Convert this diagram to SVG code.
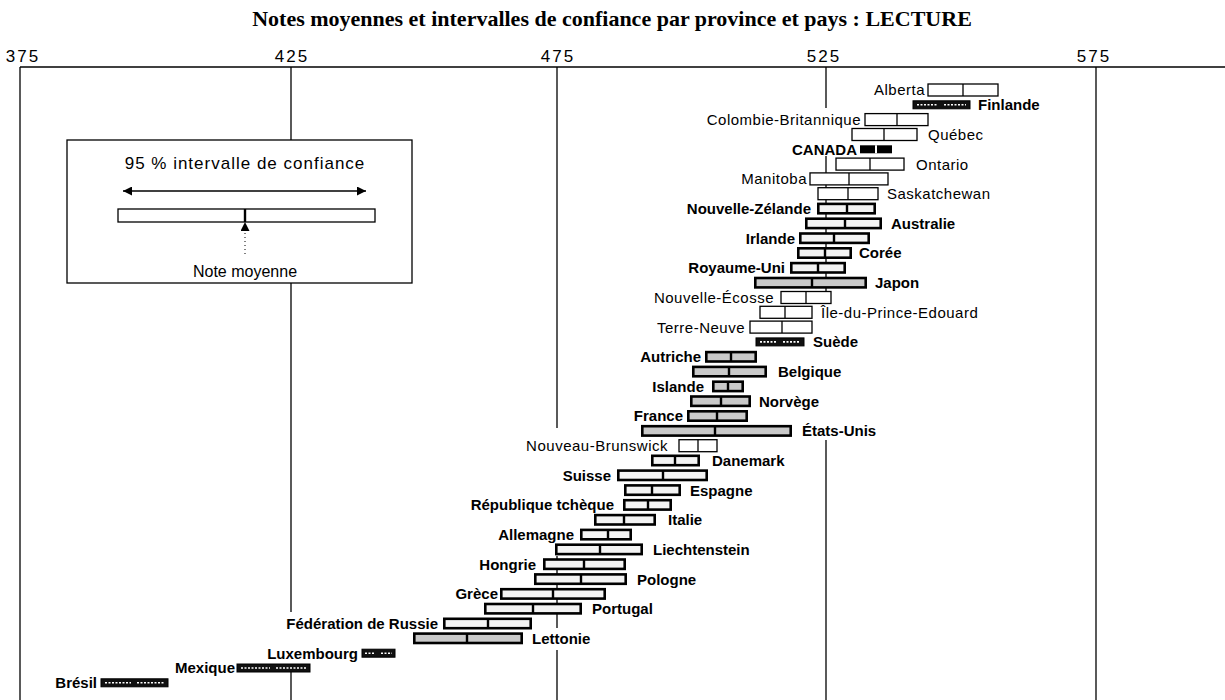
<svg xmlns="http://www.w3.org/2000/svg" width="1225" height="700" viewBox="0 0 1225 700">
<defs>
<style>
.ax{stroke:#000;stroke-width:1.3;fill:none}
.pv{fill:#fff;stroke:#000;stroke-width:1.3}
.pm{stroke:#000;stroke-width:1.3}
.ct{fill:#f3f3f3;stroke:#000;stroke-width:2.6}
.cg{fill:#c9c9c9;stroke:#000;stroke-width:2.6}
.cm{stroke:#000;stroke-width:2.4}
.dk{fill:#111;stroke:#000;stroke-width:1}
.sp{stroke:#fff;stroke-width:1.6;stroke-dasharray:2 1.5}
.lr{font-family:"Liberation Sans",Arial,sans-serif;font-size:15px;letter-spacing:0.5px;fill:#000}
.lb{font-family:"Liberation Sans",Arial,sans-serif;font-size:15px;font-weight:bold;letter-spacing:0px;fill:#000}
.e{text-anchor:end}
.tick{font-family:"Liberation Sans",Arial,sans-serif;font-size:17px;letter-spacing:2px;fill:#000;text-anchor:middle}
</style>
<marker id="ah" viewBox="0 0 10 10" refX="10" refY="5" markerWidth="14" markerHeight="9" markerUnits="userSpaceOnUse" orient="auto-start-reverse">
<path d="M0,0 L10,5 L0,10 z" fill="#000"/>
</marker>
<marker id="ah2" viewBox="0 0 10 10" refX="10" refY="5" markerWidth="16" markerHeight="9" markerUnits="userSpaceOnUse" orient="auto">
<path d="M0,0 L10,5 L0,10 z" fill="#000"/>
</marker>
</defs>
<rect width="1225" height="700" fill="#fff"/>
<text x="612" y="26" text-anchor="middle" font-family="'Liberation Serif','Times New Roman',serif" font-weight="bold" font-size="22">Notes moyennes et intervalles de confiance par province et pays : LECTURE</text>
<g id="axis">
<text class="tick" x="23" y="62">375</text>
<text class="tick" x="292" y="62">425</text>
<text class="tick" x="558" y="62">475</text>
<text class="tick" x="824" y="62">525</text>
<text class="tick" x="1094" y="62">575</text>
<line class="ax" x1="20" y1="67" x2="1225" y2="67"/>
<line class="ax" x1="20" y1="67" x2="20" y2="700"/>
<line class="ax" x1="291" y1="67" x2="291" y2="140"/>
<line class="ax" x1="291" y1="282" x2="291" y2="612"/>
<line class="ax" x1="291" y1="672" x2="291" y2="700"/>
<line class="ax" x1="557" y1="67" x2="557" y2="428"/>
<line class="ax" x1="557" y1="556" x2="557" y2="628"/>
<line class="ax" x1="557" y1="650" x2="557" y2="700"/>
<line class="ax" x1="826" y1="67" x2="826" y2="108"/>
<line class="ax" x1="826" y1="156" x2="826" y2="300"/>
<line class="ax" x1="826" y1="440" x2="826" y2="700"/>
<line class="ax" x1="1096" y1="67" x2="1096" y2="700"/>
</g>
<g id="legend">
<rect x="67" y="140" width="345" height="143" fill="#fff" stroke="#000" stroke-width="1.3"/>
<text x="245" y="169" text-anchor="middle" font-family="'Liberation Sans',Arial,sans-serif" font-size="17" letter-spacing="1">95 % intervalle de confiance</text>
<line x1="123" y1="191" x2="366" y2="191" stroke="#000" stroke-width="1.3" marker-start="url(#ah)" marker-end="url(#ah)"/>
<rect x="118" y="209" width="257" height="13" class="pv"/>
<line x1="245" y1="209" x2="245" y2="222" class="cm"/>
<line x1="245" y1="254" x2="245" y2="222" stroke="#000" stroke-width="1" stroke-dasharray="1 3" marker-end="url(#ah2)"/>
<text x="245" y="277" text-anchor="middle" font-family="'Liberation Sans',Arial,sans-serif" font-size="16" letter-spacing="0">Note moyenne</text>
</g>
<g id="rows">
<g id="alberta"><rect class="pv" x="928" y="84" width="70" height="12"/><line class="pm" x1="963" y1="84" x2="963" y2="96"/><text class="lr e" x="925" y="95">Alberta</text></g>
<g id="finlande"><rect class="dk" x="913" y="100.8" width="57" height="8"/><line class="sp" x1="917" y1="104.8" x2="938" y2="104.8"/><line class="sp" x1="944" y1="104.8" x2="966" y2="104.8"/><text class="lb" x="978" y="110">Finlande</text></g>
<g id="colombie-britannique"><rect class="pv" x="865" y="113.6" width="63" height="12"/><line class="pm" x1="897" y1="113.6" x2="897" y2="125.6"/><text class="lr e" x="861" y="125">Colombie-Britannique</text></g>
<g id="quebec"><rect class="pv" x="852" y="128.5" width="65" height="12"/><line class="pm" x1="884" y1="128.5" x2="884" y2="140.5"/><text class="lr" x="928" y="140">Québec</text></g>
<g id="canada"><rect x="860" y="145.3" width="32" height="8" fill="#000"/><line x1="876" y1="145.3" x2="876" y2="153.3" stroke="#fff" stroke-width="2"/><text class="lb e" x="857" y="154.5">CANADA</text></g>
<g id="ontario"><rect class="pv" x="836" y="158.1" width="68" height="12"/><line class="pm" x1="870" y1="158.1" x2="870" y2="170.1"/><text class="lr" x="916" y="169.5">Ontario</text></g>
<g id="manitoba"><rect class="pv" x="810" y="172.9" width="78" height="12"/><line class="pm" x1="849" y1="172.9" x2="849" y2="184.9"/><text class="lr e" x="807" y="184.3">Manitoba</text></g>
<g id="saskatchewan"><rect class="pv" x="818" y="187.7" width="60" height="12"/><line class="pm" x1="848" y1="187.7" x2="848" y2="199.7"/><text class="lr" x="887" y="199.1">Saskatchewan</text></g>
<g id="nouvelle-zelande"><rect class="ct" x="818.3" y="203.9" width="56.4" height="9.4"/><line class="cm" x1="847" y1="203.9" x2="847" y2="213.3"/><text class="lb e" x="811" y="214">Nouvelle-Zélande</text></g>
<g id="australie"><rect class="ct" x="806.3" y="218.7" width="74.4" height="9.4"/><line class="cm" x1="845" y1="218.7" x2="845" y2="228.1"/><text class="lb" x="891" y="228.8">Australie</text></g>
<g id="irlande"><rect class="ct" x="800.3" y="233.5" width="68.4" height="9.4"/><line class="cm" x1="834" y1="233.5" x2="834" y2="242.9"/><text class="lb e" x="795" y="243.6">Irlande</text></g>
<g id="coree"><rect class="ct" x="798.3" y="248.3" width="52.4" height="9.4"/><line class="cm" x1="825" y1="248.3" x2="825" y2="257.7"/><text class="lb" x="859" y="258.4">Corée</text></g>
<g id="royaume-uni"><rect class="ct" x="791.3" y="263.1" width="53.4" height="9.4"/><line class="cm" x1="818" y1="263.1" x2="818" y2="272.5"/><text class="lb e" x="785" y="273.2">Royaume-Uni</text></g>
<g id="japon"><rect class="cg" x="755.3" y="278" width="110.4" height="9.4"/><line class="cm" x1="812" y1="278" x2="812" y2="287.4"/><text class="lb" x="875" y="288.1">Japon</text></g>
<g id="nouvelle-ecosse"><rect class="pv" x="781" y="291.5" width="50" height="12"/><line class="pm" x1="806" y1="291.5" x2="806" y2="303.5"/><text class="lr e" x="774" y="302.9">Nouvelle-Écosse</text></g>
<g id="ipe"><rect class="pv" x="760" y="306.3" width="52" height="12"/><line class="pm" x1="785" y1="306.3" x2="785" y2="318.3"/><text class="lr" x="821" y="317.7">Île-du-Prince-Edouard</text></g>
<g id="terre-neuve"><rect class="pv" x="750" y="321.1" width="62" height="12"/><line class="pm" x1="782" y1="321.1" x2="782" y2="333.1"/><text class="lr e" x="745" y="332.5">Terre-Neuve</text></g>
<g id="suede"><rect class="dk" x="756" y="337.9" width="48" height="8"/><line class="sp" x1="760" y1="341.9" x2="777" y2="341.9"/><line class="sp" x1="783" y1="341.9" x2="800" y2="341.9"/><text class="lb" x="813" y="347.3">Suède</text></g>
<g id="autriche"><rect class="cg" x="706.3" y="352.1" width="49.4" height="9.4"/><line class="cm" x1="731" y1="352.1" x2="731" y2="361.5"/><text class="lb e" x="701" y="362.2">Autriche</text></g>
<g id="belgique"><rect class="cg" x="693.3" y="366.9" width="72.4" height="9.4"/><line class="cm" x1="729" y1="366.9" x2="729" y2="376.3"/><text class="lb" x="778" y="377">Belgique</text></g>
<g id="islande"><rect class="cg" x="713.3" y="381.7" width="29.4" height="9.4"/><line class="cm" x1="728" y1="381.7" x2="728" y2="391.1"/><text class="lb e" x="704" y="391.8">Islande</text></g>
<g id="norvege"><rect class="cg" x="691.3" y="396.5" width="58.4" height="9.4"/><line class="cm" x1="721" y1="396.5" x2="721" y2="405.9"/><text class="lb" x="759" y="406.6">Norvège</text></g>
<g id="france"><rect class="cg" x="688.3" y="411.3" width="58.4" height="9.4"/><line class="cm" x1="717" y1="411.3" x2="717" y2="420.7"/><text class="lb e" x="683" y="421.4">France</text></g>
<g id="etats-unis"><rect class="cg" x="642.3" y="426.2" width="148.4" height="9.4"/><line class="cm" x1="715" y1="426.2" x2="715" y2="435.6"/><text class="lb" x="802" y="436.3">États-Unis</text></g>
<g id="nouveau-brunswick"><rect class="pv" x="679" y="439.7" width="38" height="12"/><line class="pm" x1="698" y1="439.7" x2="698" y2="451.7"/><text class="lr e" x="668" y="451.1">Nouveau-Brunswick</text></g>
<g id="danemark"><rect class="ct" x="652.3" y="455.8" width="46.4" height="9.4"/><line class="cm" x1="675" y1="455.8" x2="675" y2="465.2"/><text class="lb" x="712" y="465.9">Danemark</text></g>
<g id="suisse"><rect class="ct" x="618.3" y="470.6" width="88.4" height="9.4"/><line class="cm" x1="663" y1="470.6" x2="663" y2="480"/><text class="lb e" x="611" y="480.7">Suisse</text></g>
<g id="espagne"><rect class="ct" x="625.3" y="485.4" width="54.4" height="9.4"/><line class="cm" x1="652" y1="485.4" x2="652" y2="494.8"/><text class="lb" x="690" y="495.5">Espagne</text></g>
<g id="republique-tcheque"><rect class="ct" x="624.3" y="500.2" width="46.4" height="9.4"/><line class="cm" x1="648" y1="500.2" x2="648" y2="509.6"/><text class="lb e" x="614" y="510.3">République tchèque</text></g>
<g id="italie"><rect class="ct" x="595.3" y="515.1" width="59.4" height="9.4"/><line class="cm" x1="624" y1="515.1" x2="624" y2="524.5"/><text class="lb" x="668" y="525.2">Italie</text></g>
<g id="allemagne"><rect class="ct" x="581.3" y="529.9" width="49.4" height="9.4"/><line class="cm" x1="608" y1="529.9" x2="608" y2="539.3"/><text class="lb e" x="574" y="540">Allemagne</text></g>
<g id="liechtenstein"><rect class="ct" x="556.3" y="544.7" width="85.4" height="9.4"/><line class="cm" x1="600" y1="544.7" x2="600" y2="554.1"/><text class="lb" x="653" y="554.8">Liechtenstein</text></g>
<g id="hongrie"><rect class="ct" x="544.3" y="559.5" width="80.4" height="9.4"/><line class="cm" x1="584" y1="559.5" x2="584" y2="568.9"/><text class="lb e" x="536" y="569.6">Hongrie</text></g>
<g id="pologne"><rect class="ct" x="535.3" y="574.4" width="90.4" height="9.4"/><line class="cm" x1="581" y1="574.4" x2="581" y2="583.8"/><text class="lb" x="637" y="584.5">Pologne</text></g>
<g id="grece"><rect class="ct" x="501.3" y="589.2" width="103.4" height="9.4"/><line class="cm" x1="553" y1="589.2" x2="553" y2="598.6"/><text class="lb e" x="498" y="599.3">Grèce</text></g>
<g id="portugal"><rect class="ct" x="485.3" y="604" width="95.4" height="9.4"/><line class="cm" x1="533" y1="604" x2="533" y2="613.4"/><text class="lb" x="592" y="614.1">Portugal</text></g>
<g id="russie"><rect class="ct" x="444.3" y="618.8" width="86.4" height="9.4"/><line class="cm" x1="488" y1="618.8" x2="488" y2="628.2"/><text class="lb e" x="438" y="628.9">Fédération de Russie</text></g>
<g id="lettonie"><rect class="cg" x="414.3" y="633.6" width="107.4" height="9.4"/><line class="cm" x1="467" y1="633.6" x2="467" y2="643"/><text class="lb" x="532" y="643.7">Lettonie</text></g>
<g id="luxembourg"><rect class="dk" x="362" y="649.2" width="33" height="8"/><line class="sp" x1="365" y1="653.2" x2="375" y2="653.2"/><line class="sp" x1="381" y1="653.2" x2="392" y2="653.2"/><text class="lb e" x="358" y="658.6">Luxembourg</text></g>
<g id="mexique"><rect class="dk" x="237" y="664" width="73" height="8"/><line class="sp" x1="241" y1="668" x2="270" y2="668"/><line class="sp" x1="276" y1="668" x2="306" y2="668"/><text class="lb e" x="235" y="673.4">Mexique</text></g>
<g id="bresil"><rect class="dk" x="101" y="678.8" width="67" height="8"/><line class="sp" x1="105" y1="682.8" x2="131" y2="682.8"/><line class="sp" x1="137" y1="682.8" x2="164" y2="682.8"/><text class="lb e" x="97" y="688.2">Brésil</text></g>
</g>
</svg>
